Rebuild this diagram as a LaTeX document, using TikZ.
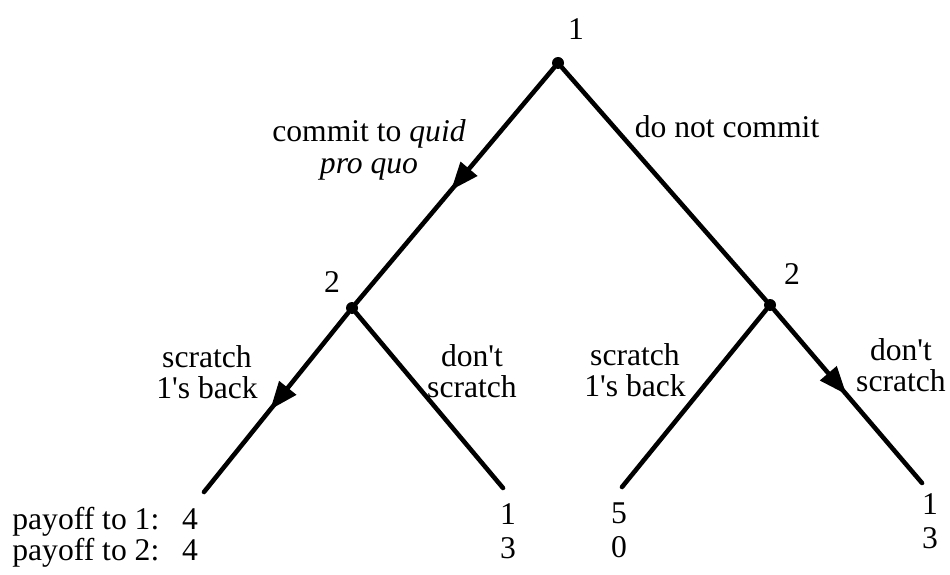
\documentclass[tikz,border=0pt]{standalone}
\usepackage{fontspec}
\setmainfont{Liberation Serif}
\usetikzlibrary{arrows.meta,decorations.markings}

\begin{document}
\begin{tikzpicture}[
    branch/.style={line width=2.6pt, line cap=round},
    movearrow/.style={postaction={decorate},
        decoration={markings, mark=at position #1 with {\arrow{Triangle[length=5.6mm, width=4.2mm]}}}},
    decision/.style={circle, fill=black, inner sep=0pt, minimum size=2.4mm},
    txt/.style={font=\fontsize{18}{18}\selectfont, align=center, inner sep=0pt},
    leafpay/.style={txt, font=\fontsize{18}{19.5}\selectfont}
]
    \useasboundingbox (0,0) rectangle (19,11.48);

    % ==========================================
    % --- Decision points ---
    % ==========================================
    \node[decision] (root) at (11.16, 10.22) {};
    \node[decision] (pA) at (7.04, 5.32) {};
    \node[decision] (pB) at (15.40, 5.38) {};

    % Ends of the branches
    \coordinate (endAA) at (4.08, 1.64);
    \coordinate (endAB) at (10.06, 1.72);
    \coordinate (endBA) at (12.44, 1.74);
    \coordinate (endBB) at (18.44, 1.82);

    % ==========================================
    % --- Branches (arrow = chosen move) ---
    % ==========================================
    \draw[branch, movearrow=0.52] (root) -- (pA);
    \draw[branch] (root) -- (pB);
    \draw[branch, movearrow=0.54] (pA) -- (endAA);
    \draw[branch] (pA) -- (endAB);
    \draw[branch] (pB) -- (endBA);
    \draw[branch, movearrow=0.49] (pB) -- (endBB);

    % Player labels
    \node[txt] (lblroot) at (11.52, 10.90) {1};
    \node[txt] (lblpA) at (6.64, 5.84) {2};
    \node[txt] (lblpB) at (15.84, 6.00) {2};

    % Move labels
    \node[txt] (lblcommit) at (7.38, 8.48) {commit to \textit{quid}\\\textit{pro quo}};
    \node[txt, anchor=base] (lblnocommit) at (14.54, 8.74) {do not commit};
    \node[txt] (lblscratchA) at (4.14, 4.04) {scratch\\1\textquotesingle s back};
    \node[txt] (lbldontA) at (9.44, 4.06) {don\textquotesingle t\\scratch};
    \node[txt] (lblscratchB) at (12.70, 4.08) {scratch\\1\textquotesingle s back};
    \node[txt] (lbldontB) at (18.02, 4.18) {don\textquotesingle t\\scratch};

    % ==========================================
    % --- Payoffs ---
    % ==========================================
    \node[txt, align=left, anchor=west, font=\fontsize{18}{14.5}\selectfont] (payAA) at (0.24, 0.74)
        {payoff to 1:\hspace{13pt}4\\payoff to 2:\hspace{13pt}4};
    \node[leafpay] (payAB) at (10.16, 0.85) {1\\3};
    \node[leafpay] (payBA) at (12.38, 0.88) {5\\0};
    \node[leafpay] (payBB) at (18.60, 1.06) {1\\3};

\end{tikzpicture}
\end{document}
